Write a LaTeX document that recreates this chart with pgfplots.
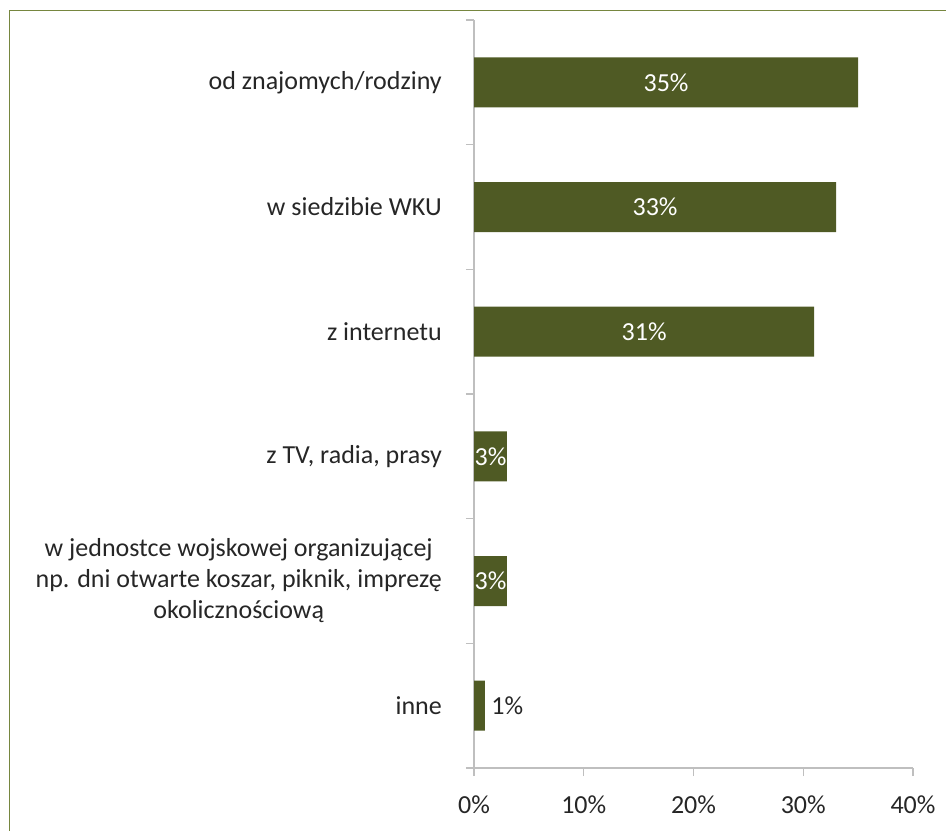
\documentclass[border=0pt]{standalone}
\usepackage{fontspec}
\setmainfont{Carlito}
\usepackage{pgfplots}
\pgfplotsset{compat=1.18}
\definecolor{barcol}{HTML}{4F5A24}
\definecolor{framecol}{HTML}{76863F}
\definecolor{axcol}{HTML}{BFBFBF}
\definecolor{txt}{HTML}{262626}
\begin{document}
\begin{tikzpicture}
\useasboundingbox (0,0) rectangle (946bp,-831bp);
\clip (0,0) rectangle (946bp,-831bp);
\draw[framecol, line width=1.5bp] (9.5bp,-10.5bp) rectangle (990bp,-870bp);
\begin{axis}[
  at={(474bp,-768bp)}, anchor=south west,
  scale only axis, width=439bp, height=748bp,
  xmin=0, xmax=40, ymin=-0.5, ymax=5.5,
  axis x line*=bottom, axis y line*=left,
  axis line style={axcol, line width=1.3bp, -},
  xtick={0,10,20,30,40},
  minor xtick={0,10,20,30,40},
  xticklabel={\pgfmathprintnumber{\tick}\%},
  ytick={0,1,2,3,4,5},
  minor ytick={-0.5,0.5,1.5,2.5,3.5,4.5,5.5},
  yticklabels={inne,{w jednostce wojskowej organizującej\\np. dni otwarte koszar, piknik, imprezę\\okolicznościową},{z TV, radia, prasy},z internetu,w siedzibie WKU,od znajomych/rodziny},
  tick align=outside,
  major tick length=0pt, minor tick length=8bp,
  every tick/.style={axcol, line width=1.3bp},
  /pgf/number format/assume math mode=true,
  every tick label/.append style={font=\fontsize{26bp}{31bp}\selectfont, text=txt},
  xticklabel style={inner sep=0pt, anchor=north, yshift=-28bp},
  yticklabel style={inner sep=0pt, anchor=east, align=center, xshift=-32bp},
  clip=false,
]
\addplot[xbar, fill=barcol, draw=none, bar width=50bp] coordinates {(1,0) (3,1) (3,2) (31,3) (33,4) (35,5)};
\addplot[draw=none, mark=none, nodes near coords, point meta=explicit symbolic,
  nodes near coords style={anchor=center, text=white, font=\fontsize{26bp}{31bp}\selectfont}]
  coordinates {(1.5,1) [3\%] (1.5,2) [3\%] (15.5,3) [31\%] (16.5,4) [33\%] (17.5,5) [35\%]};
\addplot[draw=none, mark=none, nodes near coords, point meta=explicit symbolic,
  nodes near coords style={anchor=west, xshift=3bp, text=txt, font=\fontsize{26bp}{31bp}\selectfont}]
  coordinates {(1,0) [1\%]};
\end{axis}
\end{tikzpicture}
\end{document}
